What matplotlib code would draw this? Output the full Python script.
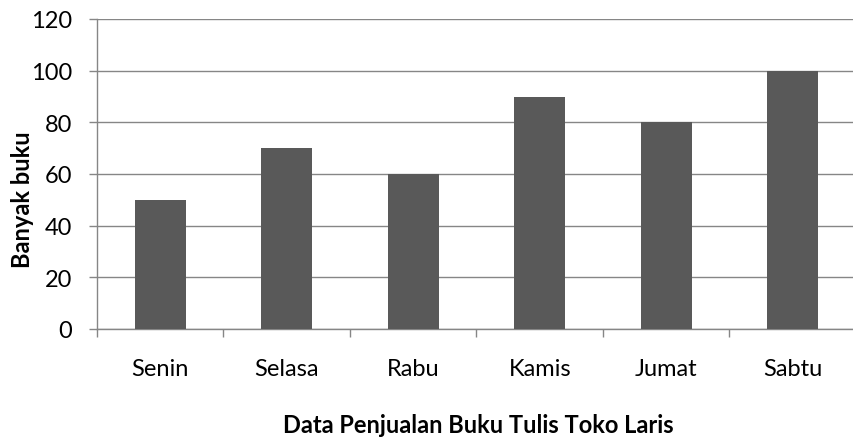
import matplotlib
matplotlib.use("Agg")
import matplotlib.pyplot as plt
import numpy as np

# data
hari = ['Senin', 'Selasa', 'Rabu', 'Kamis', 'Jumat', 'Sabtu']
banyak_buku = [50, 70, 60, 90, 80, 100]
y_ticks = [0, 20, 40, 60, 80, 100, 120]

plt.rcParams['font.family'] = ['Lato', 'DejaVu Sans']

grey = '#868686'
W, H = 854, 439

fig = plt.figure(figsize=(W / 100, H / 100), dpi=100)
ax = fig.add_axes([97 / W, 1 - 330 / H, (856 - 97) / W, 310 / H])

x = np.arange(len(hari))
ax.bar(x, banyak_buku, width=0.4, color='#595959', zorder=3)

ax.set_xlim(-0.5, len(hari) - 0.5)
ax.set_ylim(0, 120)
ax.set_yticks(y_ticks)
ax.grid(axis='y', color=grey, linewidth=1.0, zorder=0)

# garis pemisah kategori
ax.set_xticks(np.arange(len(hari) + 1) - 0.5)
ax.set_xticklabels([])
ax.set_xticks(x, minor=True)
ax.set_xticklabels(hari, minor=True)
ax.tick_params(axis='x', which='major', length=6, color=grey, width=1)
ax.tick_params(axis='x', which='minor', length=0, pad=21, labelsize=17)
ax.tick_params(axis='y', length=6, color=grey, width=1, pad=12, labelsize=17)

for s in ['top', 'right']:
    ax.spines[s].set_visible(False)
for s in ['left', 'bottom']:
    ax.spines[s].set_color(grey)
    ax.spines[s].set_linewidth(1.0)

# judul sumbu
fig.text(23 / W, 1 - 200 / H, 'Banyak buku', rotation=90, fontsize=17,
         fontweight='bold', ha='center', va='center')
fig.text(478 / W, 1 - 433 / H, 'Data Penjualan Buku Tulis Toko Laris',
         fontsize=17, fontweight='bold', ha='center', va='baseline')

fig.savefig('out.png', dpi=100)
